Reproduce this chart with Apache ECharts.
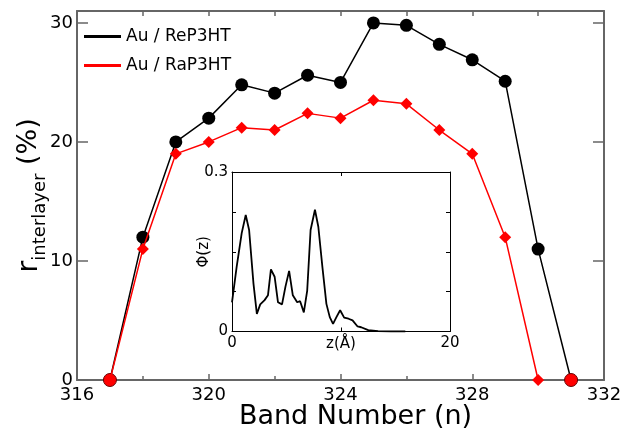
<!DOCTYPE html>
<html>
<head>
<meta charset="utf-8">
<script src="https://cdn.jsdelivr.net/npm/echarts@6/dist/echarts.min.js"></script>
<style>
  html, body { margin: 0; padding: 0; background: #fff; }
  #chart { width: 633px; height: 432px; }
</style>
</head>
<body>
<div id="chart"></div>
<script>
// Band numbers and interlayer ratio r (%) for the two interfaces
const bands = [317, 318, 319, 320, 321, 322, 323, 324, 325, 326, 327, 328, 329, 330, 331];
const reP3HT = [0, 12, 20, 22, 24.8, 24.1, 25.6, 25.0, 30.0, 29.8, 28.2, 26.9, 25.1, 11, 0];
const raBands = [317, 318, 319, 320, 321, 322, 323, 324, 325, 326, 327, 328, 329, 330];
const raP3HT = [0, 11, 19, 20, 21.2, 21.0, 22.4, 22.0, 23.5, 23.2, 21.0, 19.0, 12, 0];
const seriesNames = ['Au / ReP3HT', 'Au / RaP3HT'];

// Inset: charge density profile Φ(z) against z (Å)
const zValues = [0, 0.43, 0.89, 1.26, 1.57, 1.97, 2.28, 2.59, 2.99, 3.3, 3.57, 3.91, 4.22, 4.59,
  4.9, 5.24, 5.58, 5.98, 6.25, 6.59, 6.9, 7.21, 7.61, 7.92, 8.29, 8.66, 8.97, 9.27, 9.58, 9.92,
  10.29, 10.69, 11.06, 11.52, 11.85, 12.5, 13.4, 14.6, 15.9];
const phiValues = [0.055, 0.122, 0.185, 0.219, 0.191, 0.090, 0.033, 0.051, 0.059, 0.068, 0.117,
  0.103, 0.055, 0.051, 0.084, 0.114, 0.068, 0.055, 0.057, 0.036, 0.077, 0.191, 0.229, 0.197,
  0.122, 0.052, 0.027, 0.0145, 0.027, 0.040, 0.026, 0.024, 0.021, 0.0095, 0.008, 0.0025,
  0.0006, 0, 0];

const FONT = 'DejaVu Sans';
const AXIS_GREY = '#666';

const pair = (xs, ys) => xs.map((x, i) => [x, ys[i]]);
// end points sitting on the axis show the red diamond over the black circle
const blackData = pair(bands, reP3HT).map((p, i) =>
  (i === 0 || i === bands.length - 1) ? { value: p, itemStyle: { color: '#f00', borderColor: '#600', borderWidth: 1 } } : p);

// frame axis helper: a line with inward ticks and no labels
function frameAxis(extra, color, tickLen) {
  return Object.assign({
    type: 'value',
    axisLine: { onZero: false, lineStyle: { color: color, width: color === '#000' ? 1 : 2 } },
    axisTick: { inside: true, length: tickLen, lineStyle: { color: color, width: color === '#000' ? 1 : 1.5 } },
    axisLabel: { show: false },
    splitLine: { show: false }
  }, extra);
}

const chart = echarts.init(document.getElementById('chart'), null, { renderer: 'canvas' });

const option = {
  animation: false,
  backgroundColor: '#fff',
  textStyle: { fontFamily: FONT },
  grid: [
    { left: 77, top: 11, right: 29, bottom: 52, show: false, outerBoundsMode: 'none', containLabel: false },
    { left: 232, top: 172, width: 218, height: 159.5, show: true, backgroundColor: '#fff', borderWidth: 0,
      outerBoundsMode: 'none', containLabel: false }
  ],
  legend: {
    left: 79, top: 23, orient: 'vertical', itemGap: 12,
    icon: 'rect', itemWidth: 37, itemHeight: 3,
    data: seriesNames,
    textStyle: { fontFamily: FONT, fontSize: 17, color: '#000' }
  },
  xAxis: [
    {
      type: 'value', gridIndex: 0, min: 316, max: 332, interval: 4,
      name: 'Band Number (n)', nameLocation: 'middle', nameGap: 23, nameMoveOverlap: false,
      nameTextStyle: { fontFamily: FONT, fontSize: 27, color: '#000', padding: [0, 0, 0, 30] },
      axisLine: { onZero: false, lineStyle: { color: AXIS_GREY, width: 2 } },
      axisTick: { inside: true, length: 6, lineStyle: { color: AXIS_GREY, width: 1.5 } },
      minorTick: { show: true, splitNumber: 2, length: 4, lineStyle: { color: AXIS_GREY, width: 1.5 } },
      axisLabel: { fontFamily: FONT, fontSize: 18, color: '#000', margin: 6 },
      splitLine: { show: false }
    },
    frameAxis({ gridIndex: 0, position: 'top', min: 316, max: 332, interval: 2 }, AXIS_GREY, 5),
    {
      type: 'value', gridIndex: 1, min: 0, max: 20, interval: 10,
      name: 'z(Å)', nameLocation: 'middle', nameGap: 5, nameMoveOverlap: false,
      nameTextStyle: { fontFamily: FONT, fontSize: 15, color: '#000', verticalAlign: 'top' },
      axisLine: { onZero: false, lineStyle: { color: '#000', width: 1 } },
      axisTick: { inside: true, length: 4, lineStyle: { color: '#000' } },
      axisLabel: { fontFamily: FONT, fontSize: 15, color: '#000', margin: 4,
        formatter: v => (v === 10 ? '' : String(v)) },
      splitLine: { show: false }
    },
    frameAxis({ gridIndex: 1, position: 'top', min: 0, max: 20, interval: 10 }, '#000', 4)
  ],
  yAxis: [
    {
      type: 'value', gridIndex: 0, min: 0, max: 31, interval: 10,
      name: '{r|r}{s|interlayer}{p| (%)}', nameLocation: 'middle', nameGap: 28, nameRotate: 90,
      nameMoveOverlap: false,
      nameTextStyle: {
        color: '#000',
        rich: {
          r: { fontFamily: FONT, fontSize: 29, color: '#000' },
          s: { fontFamily: FONT, fontSize: 18, color: '#000', padding: [22, 0, 0, 0] },
          p: { fontFamily: FONT, fontSize: 27, color: '#000' }
        }
      },
      axisLine: { onZero: false, lineStyle: { color: AXIS_GREY, width: 2 } },
      axisTick: { inside: true, length: 11, lineStyle: { color: AXIS_GREY, width: 1.5 } },
      axisLabel: { fontFamily: FONT, fontSize: 18, color: '#000', margin: 4,
        formatter: v => (v % 10 === 0 ? String(v) : '') },
      splitLine: { show: false }
    },
    frameAxis({ gridIndex: 0, position: 'right', min: 0, max: 31, interval: 10 }, AXIS_GREY, 11),
    {
      type: 'value', gridIndex: 1, min: 0, max: 0.3, interval: 0.075,
      name: 'Φ(z)', nameLocation: 'middle', nameGap: 20, nameRotate: 90, nameMoveOverlap: false,
      nameTextStyle: { fontFamily: FONT, fontSize: 15, color: '#000' },
      axisLine: { onZero: false, lineStyle: { color: '#000', width: 1 } },
      axisTick: { inside: true, length: 4, lineStyle: { color: '#000' } },
      axisLabel: { fontFamily: FONT, fontSize: 15, color: '#000', margin: 4,
        formatter: v => (v === 0 ? '0' : (Math.abs(v - 0.3) < 1e-9 ? '0.3' : '')) },
      splitLine: { show: false }
    },
    frameAxis({ gridIndex: 1, position: 'right', min: 0, max: 0.3, interval: 0.075 }, '#000', 4)
  ],
  series: [
    {
      name: seriesNames[0], type: 'line', xAxisIndex: 0, yAxisIndex: 0,
      data: blackData,
      symbol: 'circle', symbolSize: 13,
      lineStyle: { color: '#000', width: 1.5 },
      itemStyle: { color: '#000' },
      z: 3
    },
    {
      name: seriesNames[1], type: 'line', xAxisIndex: 0, yAxisIndex: 0,
      data: pair(raBands, raP3HT),
      symbol: 'diamond', symbolSize: 12,
      lineStyle: { color: '#f00', width: 1.5 },
      itemStyle: { color: '#f00' },
      z: 4
    },
    {
      name: 'Φ(z)', type: 'line', xAxisIndex: 2, yAxisIndex: 2,
      data: pair(zValues, phiValues),
      symbol: 'none',
      lineStyle: { color: '#000', width: 1.8 },
      z: 5
    }
  ]
};

chart.setOption(option);
</script>
</body>
</html>
